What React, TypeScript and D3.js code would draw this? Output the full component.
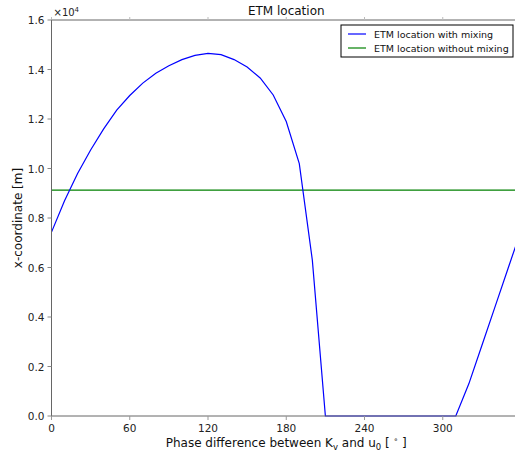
import React, { useEffect, useRef } from 'react';
import * as d3 from 'd3';

// phase difference in degrees, step 10
const phases = d3.range(0, 361, 10);
// ETM location with mixing, in units of 1e4 m
const withMixing = [
  0.743, 0.87, 0.98, 1.075, 1.16, 1.236, 1.295, 1.345, 1.385, 1.415,
  1.44, 1.457, 1.465, 1.46, 1.44, 1.41, 1.366, 1.297, 1.19, 1.02,
  0.63, 0, 0, 0, 0, 0, 0, 0, 0, 0,
  0, 0, 0.13, 0.285, 0.44, 0.595, 0.75,
];
// ETM location without mixing (constant), 1e4 m
const withoutMixing = 0.913;

const xTicks = [0, 60, 120, 180, 240, 300];
const yTicks = [0, 0.2, 0.4, 0.6, 0.8, 1.0, 1.2, 1.4, 1.6];

const App = () => {
  const ref = useRef<SVGSVGElement>(null);

  useEffect(() => {
    const svg = d3.select(ref.current);
    svg.selectAll('*').remove();

    const left = 51.5, right = 521, top = 20, bottom = 416;
    const font = 'DejaVu Sans, sans-serif';

    const x = d3.scaleLinear().domain([0, 360]).range([left, right]);
    const y = d3.scaleLinear().domain([0, 1.6]).range([bottom, top]);

    // lines
    svg.append('line')
      .attr('x1', x(0)).attr('x2', x(360))
      .attr('y1', y(withoutMixing)).attr('y2', y(withoutMixing))
      .attr('stroke', '#008000').attr('stroke-width', 1.2);

    const line = d3.line<number>()
      .x((d, i) => x(phases[i]))
      .y(d => y(d));
    svg.append('path')
      .datum(withMixing)
      .attr('d', line)
      .attr('fill', 'none')
      .attr('stroke', '#0000ff')
      .attr('stroke-width', 1.2);

    // spines
    const spine = '#666';
    svg.append('line').attr('x1', left).attr('x2', right).attr('y1', top).attr('y2', top).attr('stroke', spine);
    svg.append('line').attr('x1', left).attr('x2', right).attr('y1', bottom).attr('y2', bottom).attr('stroke', spine);
    svg.append('line').attr('x1', left).attr('x2', left).attr('y1', top).attr('y2', bottom).attr('stroke', spine);

    // x ticks
    xTicks.forEach(t => {
      svg.append('line').attr('x1', x(t)).attr('x2', x(t)).attr('y1', bottom).attr('y2', bottom + 4).attr('stroke', '#999');
      svg.append('line').attr('x1', x(t)).attr('x2', x(t)).attr('y1', top).attr('y2', top - 3).attr('stroke', '#bbb');
      svg.append('text')
        .attr('x', x(t)).attr('y', bottom + 16)
        .attr('text-anchor', 'middle')
        .attr('font-family', font).attr('font-size', 10.5)
        .attr('fill', '#222')
        .text(t);
    });

    // y ticks
    yTicks.forEach(t => {
      svg.append('line').attr('x1', left - 4).attr('x2', left).attr('y1', y(t)).attr('y2', y(t)).attr('stroke', '#888');
      svg.append('text')
        .attr('x', left - 7).attr('y', y(t) + 4)
        .attr('text-anchor', 'end')
        .attr('font-family', font).attr('font-size', 10.5)
        .attr('fill', '#222')
        .text(d3.format('.1f')(t));
    });

    // offset text
    const off = svg.append('text')
      .attr('x', left + 2).attr('y', 16)
      .attr('font-family', font).attr('font-size', 10)
      .attr('fill', '#222');
    off.append('tspan').text('×10');
    off.append('tspan').attr('font-size', 7).attr('dy', -4).text('4');

    // title
    svg.append('text')
      .attr('x', (left + right) / 2).attr('y', 15)
      .attr('text-anchor', 'middle')
      .attr('font-family', font).attr('font-size', 12)
      .attr('fill', '#111')
      .text('ETM location');

    // x label
    const xl = svg.append('text')
      .attr('x', (left + right) / 2).attr('y', 447)
      .attr('text-anchor', 'middle')
      .attr('font-family', font).attr('font-size', 12)
      .attr('fill', '#111');
    xl.append('tspan').text('Phase difference between K');
    xl.append('tspan').attr('font-size', 8.5).attr('dy', 3).text('v');
    xl.append('tspan').attr('dy', -3).text(' and u');
    xl.append('tspan').attr('font-size', 8.5).attr('dy', 3).text('0');
    xl.append('tspan').attr('dy', -3).text('  [ ');
    xl.append('tspan').attr('font-size', 7.5).attr('dy', -5).text('∘');
    xl.append('tspan').attr('dy', 5).text(' ]');

    // y label
    svg.append('text')
      .attr('transform', `translate(22, ${(top + bottom) / 2}) rotate(-90)`)
      .attr('text-anchor', 'middle')
      .attr('font-family', font).attr('font-size', 12)
      .attr('fill', '#111')
      .text('x-coordinate [m]');

    // legend
    const lg = svg.append('g').attr('transform', 'translate(341, 25)');
    lg.append('rect')
      .attr('x', 0).attr('y', 0).attr('width', 172).attr('height', 32)
      .attr('fill', '#fff').attr('stroke', '#000').attr('stroke-width', 1);
    const items = [
      { label: 'ETM location with mixing', color: '#0000ff' },
      { label: 'ETM location without mixing', color: '#008000' },
    ];
    items.forEach((it, i) => {
      const yy = 9 + i * 14;
      lg.append('line').attr('x1', 7).attr('x2', 25).attr('y1', yy).attr('y2', yy)
        .attr('stroke', it.color).attr('stroke-width', 1.2);
      lg.append('text')
        .attr('x', 33).attr('y', yy + 3.5)
        .attr('font-family', font).attr('font-size', 9.5)
        .attr('fill', '#111')
        .text(it.label);
    });
  }, []);

  return (
    <div style={{ position: 'fixed', left: 0, top: 0, width: 515, height: 455, background: '#fff' }}>
      <svg ref={ref} width={515} height={455} style={{ display: 'block' }} />
    </div>
  );
};

export default App;
